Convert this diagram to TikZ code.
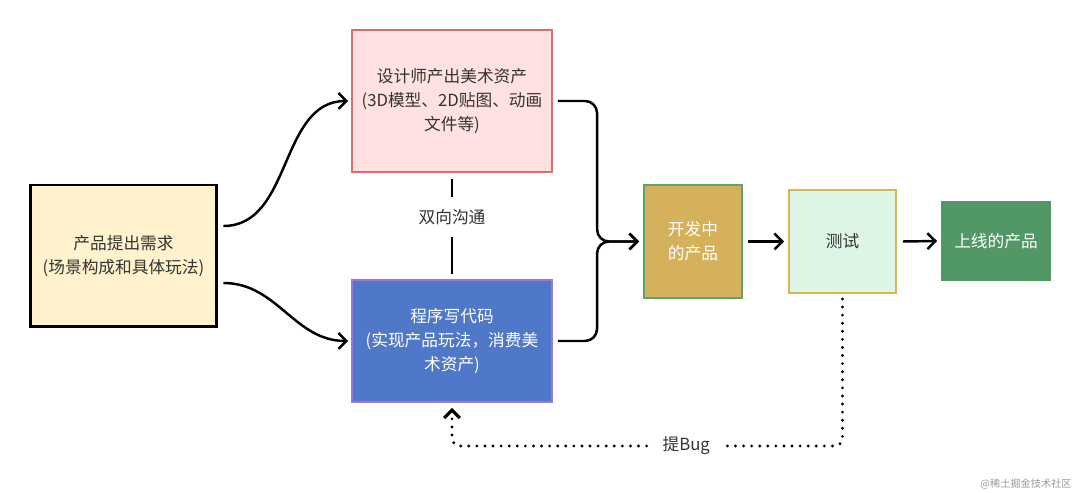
\documentclass[tikz,border=0pt]{standalone}
\usepackage{fontspec}
\setmainfont{Noto Sans CJK SC}
\usepackage{xcolor}
\usetikzlibrary{arrows.meta,positioning,calc}

\definecolor{askfill}{HTML}{FFF2CC}
\definecolor{artfill}{HTML}{FFE1E1}
\definecolor{artline}{HTML}{E06C6C}
\definecolor{codefill}{HTML}{5078C8}
\definecolor{codeline}{HTML}{9A78DE}
\definecolor{devfill}{HTML}{D4B15A}
\definecolor{devline}{HTML}{5BA66B}
\definecolor{testfill}{HTML}{DEF5E6}
\definecolor{testline}{HTML}{D8B656}
\definecolor{livefill}{HTML}{519866}
\definecolor{inkgray}{HTML}{333333}

\begin{document}
\begin{tikzpicture}[x=0.02cm,y=0.02cm,>={Straight Barb[length=4.5pt,width=9pt]},
  box/.style={draw,line width=1.1pt,align=center,inner sep=2pt,
              font=\fontsize{9.5}{13.6}\selectfont},
  link/.style={line width=1.4pt,->},
  bugline/.style={line width=1.8pt,dash pattern=on 0pt off 4.6pt,line cap=round,
                  rounded corners=0.16cm,->}]
  \useasboundingbox (0,0) rectangle (1080,493);
  % boxes
  \node[box,draw=black,line width=1.7pt,fill=askfill,text=inkgray,
        minimum width=3.74cm,minimum height=2.84cm] (ask) at (123.5,237)
    {产品提出需求\\(场景构成和具体玩法)};
  \node[box,draw=artline,fill=artfill,text=inkgray,
        minimum width=4cm,minimum height=2.84cm] (art) at (452,392)
    {设计师产出美术资产\\(3D模型、2D贴图、动画\\文件等)};
  \node[box,draw=codeline,fill=codefill,text=white,
        minimum width=4cm,minimum height=2.44cm] (code) at (452,152)
    {程序写代码\\(实现产品玩法，消费美\\术资产)};
  \node[box,draw=devline,fill=devfill,text=white,
        minimum width=1.96cm,minimum height=2.26cm] (dev) at (693,251.5)
    {开发中\\的产品};
  \node[box,draw=testline,fill=testfill,text=inkgray,
        minimum width=2.14cm,minimum height=2.06cm] (test) at (842.5,251.5)
    {测试};
  \node[box,draw=livefill,fill=livefill,text=white,
        minimum width=2.16cm,minimum height=1.56cm] (live) at (996,252)
    {上线的产品};
  \coordinate (join) at ([xshift=-0.92cm]dev.west);
  \coordinate (bugturn) at (452,47);
  % connectors
  \draw[link] ([xshift=0.1cm,yshift=0.6cm]ask.east) to[out=0,in=180]
    ([xshift=-0.06cm]art.west);
  \draw[link] ([xshift=0.1cm,yshift=-0.54cm]ask.east) to[out=0,in=180]
    ([xshift=-0.06cm]code.west);
  \draw[link,rounded corners=0.24cm] ([xshift=0.1cm]art.east) -| (join)
    -- ([xshift=-0.08cm]dev.west);
  \draw[link,rounded corners=0.24cm] ([xshift=0.1cm]code.east) -| (join)
    -- ([xshift=-0.08cm]dev.west);
  \draw[link] ([xshift=0.1cm]dev.east) -- ([xshift=-0.08cm]test.west);
  \draw[link] ([xshift=0.12cm]test.east) -- ([xshift=-0.08cm]live.west);
  \draw[line width=1.4pt] ([yshift=-0.12cm]art.south) --
    node[pos=0.4,fill=white,text=inkgray,inner xsep=2pt,inner ysep=0.24cm,
         font=\fontsize{9.5}{12}\selectfont] (talk) {双向沟通}
    ([yshift=0.1cm]code.north);
  \draw[bugline] ([yshift=-0.1cm]test.south) |-
    node[pos=0.7,fill=white,text=inkgray,inner xsep=0.22cm,
         font=\fontsize{9.5}{12}\selectfont] (bug) {提Bug}
    (bugturn) -- ([yshift=-0.1cm]code.south);
  % watermark
  \node[anchor=east,text=black!40,font=\fontsize{5.8}{7}\selectfont,inner sep=0pt]
    (mark) at (1072,9) {@稀土掘金技术社区};
\end{tikzpicture}
\end{document}
